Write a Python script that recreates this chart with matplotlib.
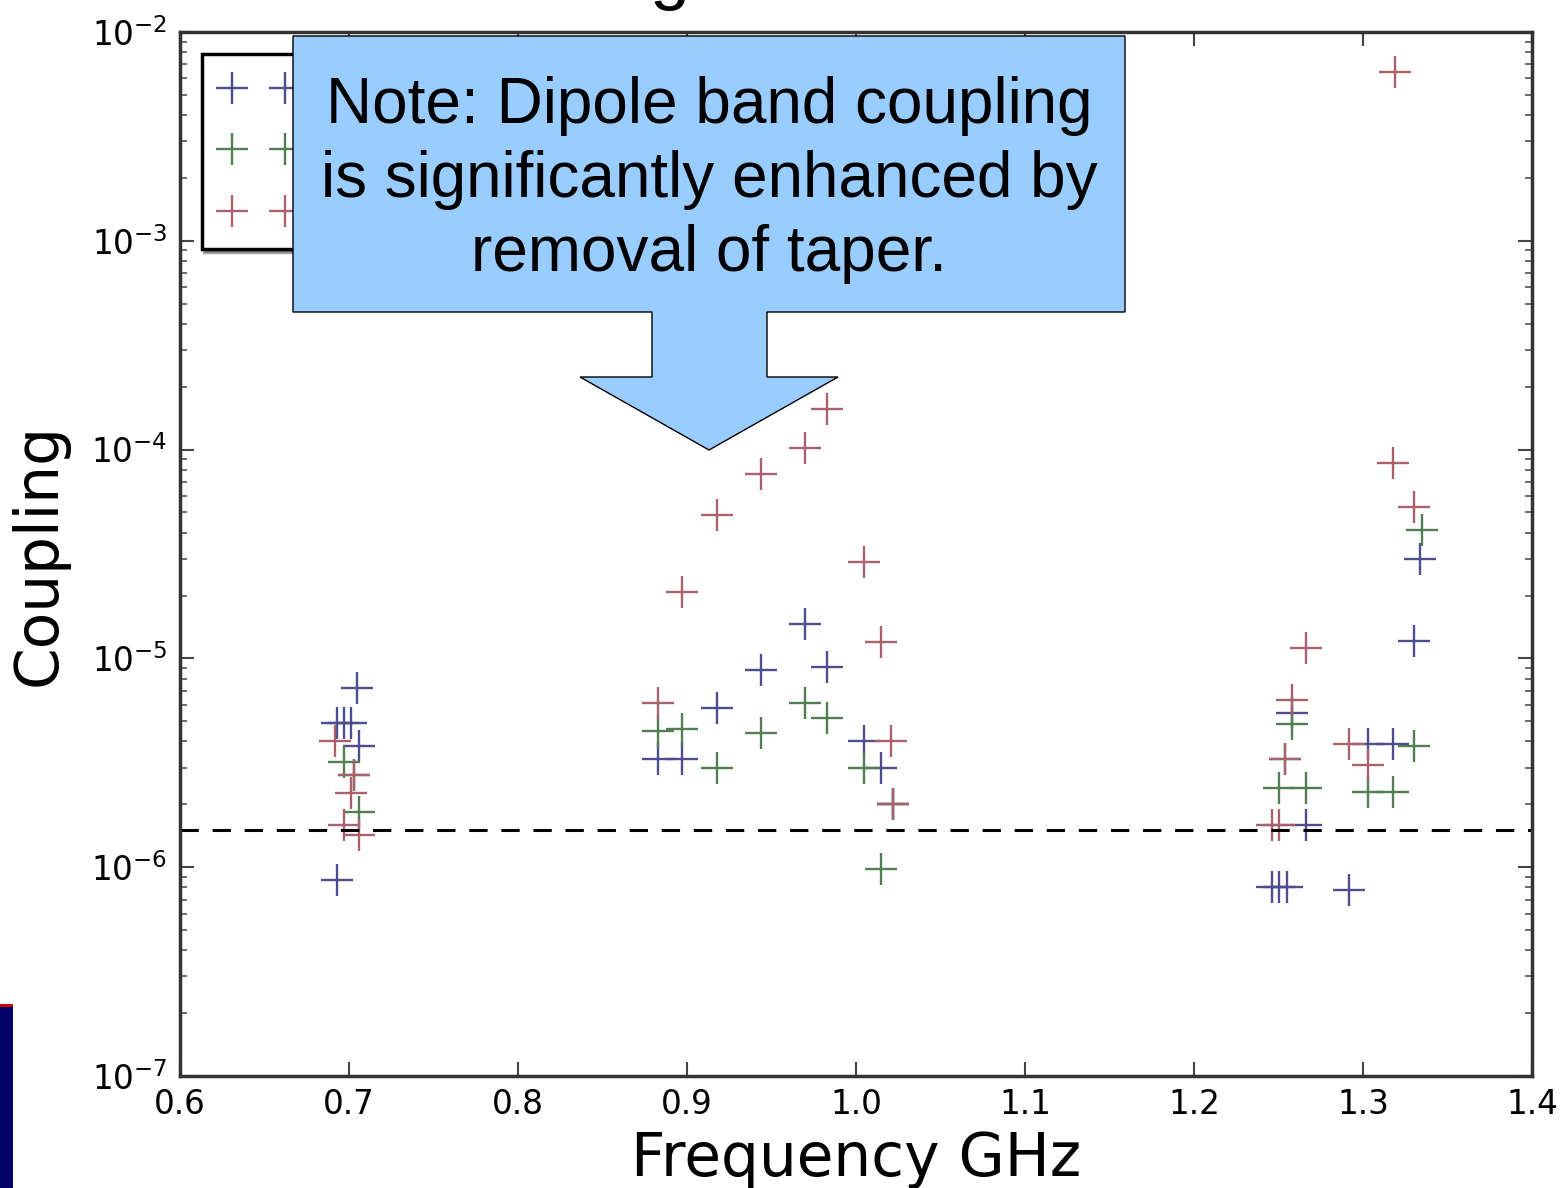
import matplotlib
matplotlib.use("Agg")
import matplotlib.pyplot as plt
from matplotlib.patches import Polygon, Rectangle

# ---- data ----
blue_freq = [0.7047, 0.693, 0.697, 0.701, 0.706, 0.693,
             0.970, 0.944, 0.983, 0.918, 0.883, 0.897, 1.005, 1.015, 1.022,
             1.334, 1.330, 1.258, 1.303, 1.318, 1.266, 1.246, 1.250, 1.255, 1.292]
blue_coup = [7.2e-6, 4.9e-6, 4.9e-6, 4.9e-6, 3.8e-6, 8.7e-7,
             1.46e-5, 8.8e-6, 9.1e-6, 5.8e-6, 3.3e-6, 3.3e-6, 4.0e-6, 3.0e-6, 2.0e-6,
             3.0e-5, 1.21e-5, 5.5e-6, 3.9e-6, 3.9e-6, 1.6e-6, 8.0e-7, 8.0e-7, 8.0e-7, 7.8e-7]

green_freq = [0.697, 0.703, 0.706,
              0.883, 0.897, 0.918, 0.944, 0.970, 0.983, 1.005, 1.015, 1.022,
              1.335, 1.258, 1.330, 1.254, 1.250, 1.266, 1.303, 1.318]
green_coup = [3.2e-6, 2.75e-6, 1.84e-6,
              4.5e-6, 4.6e-6, 3.0e-6, 4.4e-6, 6.1e-6, 5.2e-6, 3.0e-6, 9.8e-7, 2.0e-6,
              4.1e-5, 4.85e-6, 3.8e-6, 3.3e-6, 2.4e-6, 2.4e-6, 2.3e-6, 2.3e-6]

red_freq = [0.692, 0.703, 0.701, 0.697, 0.706,
            0.983, 0.970, 0.944, 0.918, 0.897, 1.005, 1.015, 0.883, 1.021, 1.022,
            1.319, 1.318, 1.330, 1.266, 1.258, 1.292, 1.303, 1.254, 1.246, 1.250]
red_coup = [4.0e-6, 2.75e-6, 2.26e-6, 1.6e-6, 1.42e-6,
            1.56e-4, 1.02e-4, 7.6e-5, 4.86e-5, 2.08e-5, 2.9e-5, 1.2e-5, 6.1e-6, 4.0e-6, 2.0e-6,
            6.4e-3, 8.6e-5, 5.3e-5, 1.12e-5, 6.3e-6, 3.9e-6, 3.1e-6, 3.3e-6, 1.6e-6, 1.6e-6]

series_labels = ["Dipole band 1", "Dipole band 2", "Dipole band 3"]
threshold = 1.5e-6
xticks = [0.6, 0.7, 0.8, 0.9, 1.0, 1.1, 1.2, 1.3, 1.4]
xticklabels = ["0.6", "0.7", "0.8", "0.9", "1.0", "1.1", "1.2", "1.3", "1.4"]
note_text = "Note: Dipole band coupling\nis significantly enhanced by\nremoval of taper."

W, H = 1568, 1188
fig = plt.figure(figsize=(W / 100, H / 100), dpi=100)
ax = fig.add_axes([180 / W, 1 - 1076 / H, (1532 - 180) / W, (1076 - 32) / H])

mk = dict(marker="+", linestyle="none", markersize=23, markeredgewidth=1.7)
ax.plot(blue_freq, blue_coup, color="#4e4e8e", label=series_labels[0], **mk)
ax.plot(green_freq, green_coup, color="#4f7f52", label=series_labels[1], **mk)
ax.plot(red_freq, red_coup, color="#a8626e", label=series_labels[2], **mk)
ax.axhline(threshold, color="black", linestyle=(0, (6, 4.5)), linewidth=2.2)

ax.set_yscale("log")
ax.set_xlim(0.6, 1.4)
ax.set_ylim(1e-7, 1e-2)
ax.set_xticks(xticks)
ax.set_xticklabels(xticklabels)
ax.tick_params(which="both", direction="in", top=True, right=True, labelsize=23.5, pad=9)
ax.tick_params(which="major", length=10, width=1.5, color="#444444")
ax.tick_params(which="minor", length=5, width=1.2, color="#555555")
for s in ax.spines.values():
    s.set_linewidth(2.5)
    s.set_color("#333333")

ax.set_xlabel("Frequency GHz", fontsize=43, labelpad=6)
ax.set_ylabel("Coupling", fontsize=43, labelpad=16)

leg = ax.legend(loc="upper left", numpoints=2, fontsize=24, shadow=True, fancybox=False,
                borderaxespad=0.65, borderpad=0.6, handlelength=2.2, labelspacing=0.85,
                framealpha=1)
leg.get_frame().set_edgecolor("black")
leg.get_frame().set_linewidth(2.5)

# callout shape (pixel coordinates of the reference converted to figure fraction)
pts_px = [(293, 36), (1125, 36), (1125, 312), (767, 312), (767, 377), (838, 377),
          (709, 450), (580, 377), (652, 377), (652, 312), (293, 312)]
pts = [(x / W, 1 - y / H) for x, y in pts_px]
fig.patches.append(Polygon(pts, closed=True, transform=fig.transFigure, facecolor="#99ccff",
                           edgecolor="black", linewidth=1.0, zorder=10))
fig.text(709 / W, 1 - 180 / H, note_text, ha="center", va="center", fontsize=46,
         family="Liberation Sans", linespacing=1.3, zorder=11)

# slide remnants: title descender and logo edge
fig.text(670 / W, 1 - 11 / H, "g", ha="center", va="bottom", fontsize=52,
         family="Liberation Sans", zorder=11)
fig.patches.append(Rectangle((0, 0), 13 / W, 183 / H, transform=fig.transFigure,
                             facecolor="#000066", edgecolor="none", zorder=10))
fig.patches.append(Rectangle((0, 181 / H), 13 / W, 3 / H, transform=fig.transFigure,
                             facecolor="#cc0000", edgecolor="none", zorder=11))

fig.savefig("out.png", dpi=100)
